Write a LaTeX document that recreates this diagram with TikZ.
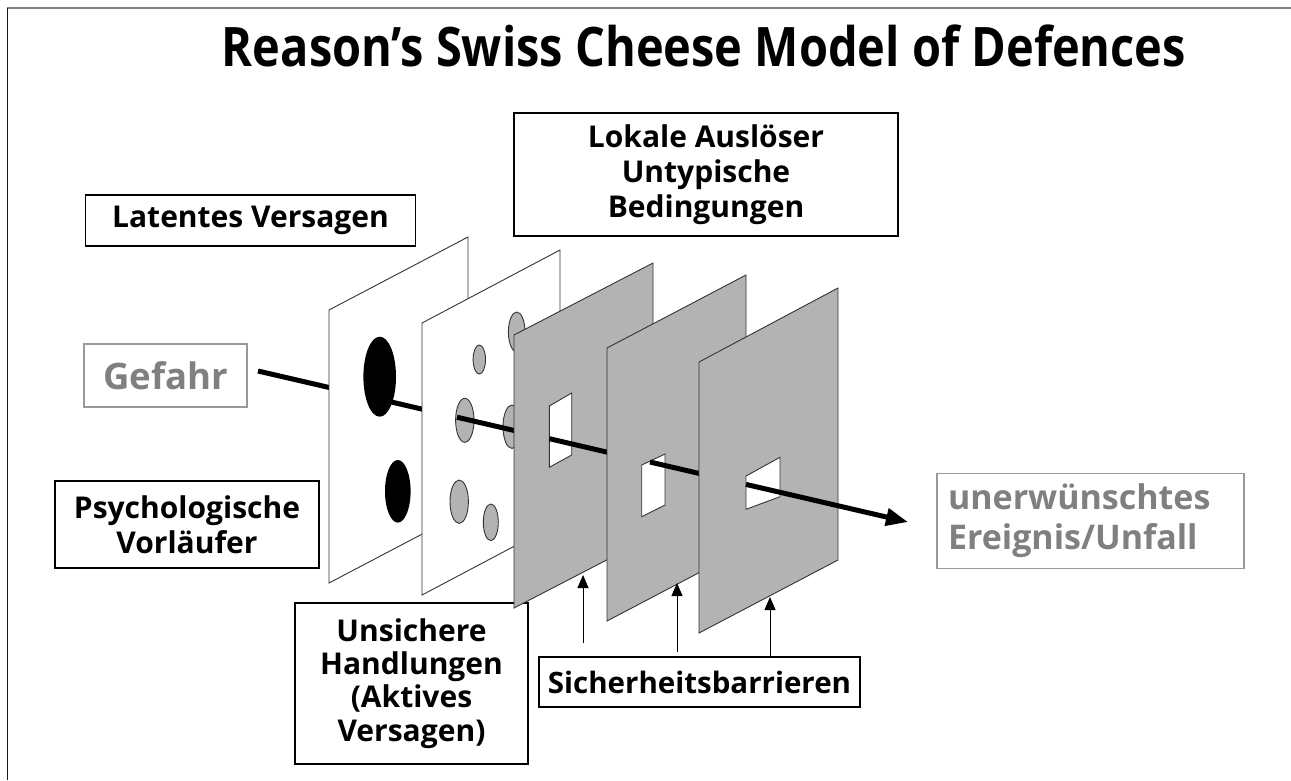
\documentclass[tikz,border=0pt]{standalone}
\usepackage{fontspec}
\setmainfont{Open Sans}
\usetikzlibrary{arrows.meta}
\definecolor{panelgray}{HTML}{B3B3B3}
\definecolor{txtgray}{HTML}{808080}
\definecolor{boxgray}{HTML}{999999}
\definecolor{edge}{HTML}{333333}
\tikzset{
  lbox/.style={draw=black, line width=1.5pt, fill=white, inner sep=0pt, align=center,
    font=\bfseries\fontsize{30}{35}\selectfont},
  gbox/.style={draw=boxgray, line width=1.5pt, fill=white, inner sep=0pt, text=txtgray},
  panelw/.style={draw=edge, line width=0.9pt, fill=white, line join=miter},
  panelg/.style={draw=edge, line width=0.9pt, fill=panelgray, line join=miter},
  holeb/.style={fill=black},
  holeg/.style={draw=edge, line width=0.9pt, fill=panelgray},
  holew/.style={draw=edge, line width=0.9pt, fill=white},
  ray/.style={line width=5pt, draw=black},
  pointer/.style={line width=0.9pt, draw=black, -{Triangle[length=13pt,width=11pt]}},
}
\begin{document}
\begin{tikzpicture}[x=1pt,y=-1pt]
\useasboundingbox (0,0) rectangle (1291,780);
% frame
\draw[line width=2pt, draw=gray] (7,7.5) -- (1291,7.5);
\draw[line width=1.6pt, draw=black!90] (7.5,8) -- (7.5,780);

% title
\node[anchor=base, inner sep=0pt] (title) at (704,66)
  {\scalebox{1}[1.16]{\resizebox{964pt}{!}{\fontsize{52}{60}\selectfont\bfseries Reason’s Swiss Cheese Model of Defences}}};

% labels
\node[lbox, minimum width=330, minimum height=51] (latent) at (250.5,220.5) {Latentes Versagen};
\node[lbox, minimum width=384, minimum height=123] (lokal) at (706,174.4)
  {Lokale Auslöser\\Untypische\\Bedingungen};
\node[lbox, minimum width=264, minimum height=87] (psych) at (187,524.4)
  {Psychologische\\Vorläufer};
\node[gbox, minimum width=163, minimum height=63, font=\bfseries\fontsize{36.5}{44}\selectfont] (gefahr) at (165.5,375.5) {Gefahr};
\node[gbox, text width=285pt, inner xsep=11pt, minimum height=95, align=left,
  font=\bfseries\fontsize{34}{40}\selectfont] (unfall) at (1090.5,521)
  {unerwünschtes\\Ereignis/Unfall};
\node[lbox, minimum width=233, minimum height=161, font=\bfseries\fontsize{30}{33.3}\selectfont] (unsicher) at (411.5,683.5)
  {Unsichere\\Handlungen\\(Aktives\\Versagen)};
\node[lbox, minimum width=321, minimum height=50, font=\bfseries\fontsize{29.5}{36}\selectfont] (barr) at (699.5,682) {Sicherheitsbarrieren};

% ray coordinates
\coordinate (r0) at (258,371);
\coordinate (r1) at (340,390);
\coordinate (r2) at (385,400.5);
\coordinate (r3) at (430,411);
\coordinate (r4) at (457,417.2);
\coordinate (r5) at (522,432.3);
\coordinate (r6) at (549.5,438.7);
\coordinate (r7) at (615,454);
\coordinate (r8) at (650,462);
\coordinate (r9) at (705,474.8);
\coordinate (r10) at (746,484.4);
\coordinate (r11) at (908,522);

\draw[ray] (r0) -- (r1);

% panel 1
\draw[panelw] (329,310) -- (468,237) -- (468,510) -- (329,583) -- cycle;
\fill[holeb] (379.7,376.7) ellipse [x radius=16.3, y radius=40];
\fill[holeb] (397.8,491.3) ellipse [x radius=12.8, y radius=31.3];
\draw[ray] (r2) -- (r3);

% panel 2
\draw[panelw] (422,323) -- (560,250) -- (560,522) -- (422,595) -- cycle;
\draw[holeg] (479.3,359.5) ellipse [x radius=6.2, y radius=14.5];
\draw[holeg] (516.7,332) ellipse [x radius=8.3, y radius=20];
\draw[holeg] (464.8,420.3) ellipse [x radius=9.2, y radius=22];
\draw[holeg] (512,426.7) ellipse [x radius=9, y radius=21.7];
\draw[holeg] (459.2,501.7) ellipse [x radius=9.2, y radius=21.7];
\draw[holeg] (490.8,522.3) ellipse [x radius=7.5, y radius=18.3];
\draw[ray] (r4) -- (r5);

% panel 3
\draw[panelg] (514,335) -- (653,263) -- (653,536) -- (514,608) -- cycle;
\draw[holew] (549.3,406) -- (571.7,393) -- (571.7,455) -- (549.3,467.3) -- cycle;
\draw[ray] (r6) -- (r7);

% panel 4
\draw[panelg] (607,348) -- (746,275) -- (746,548) -- (607,621) -- cycle;
\draw[holew] (641.7,465) -- (665,454) -- (665,505) -- (641.7,516.7) -- cycle;
\draw[ray] (r8) -- (r9);

% panel 5
\draw[panelg] (699,362) -- (838,288) -- (838,560) -- (699,633) -- cycle;
\draw[holew] (746,476) -- (780,457.3) -- (780,496.7) -- (746,509.3) -- cycle;
\draw[line width=5pt, -{Triangle[length=22pt,width=17pt]}] (r10) -- (r11);

% pointers to barriers
\coordinate (p1s) at (583,643);
\coordinate (p1e) at (583,575);
\coordinate (p2s) at (677,652);
\coordinate (p2e) at (677,583);
\coordinate (p3e) at (770,597);
\draw[pointer] (p1s) -- (p1e);
\draw[pointer] (p2s) -- (p2e);
\draw[pointer] (barr.north -| p3e) -- (p3e);
\end{tikzpicture}
\end{document}
